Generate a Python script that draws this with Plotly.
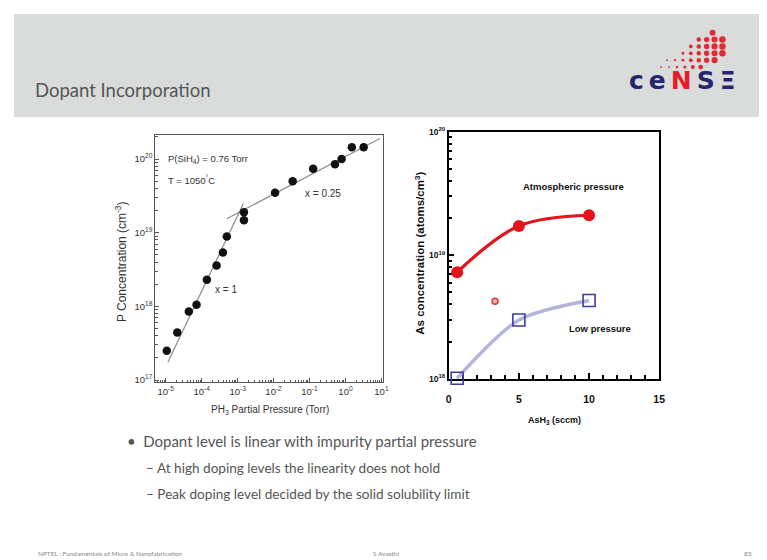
import plotly.graph_objects as go

# page body has an 8px margin: the figure starts at (8, 8) of the window
OFF = 8
W, H = 767 - OFF, 560 - OFF
def px(x): return (x - OFF) / W
def py(y): return 1 - (y - OFF) / H

# ---------------- data: left chart (P incorporation vs PH3 pressure) -------------
ph3_pressure = [1.07e-5, 2.1e-5, 4.4e-5, 7.2e-5, 1.4e-4, 2.6e-4, 3.9e-4, 5.0e-4,
                1.5e-3, 1.5e-3, 1.1e-2, 3.4e-2, 0.126, 0.51, 0.78, 1.5, 3.2]
p_conc = [2.5e17, 4.4e17, 8.5e17, 1.05e18, 2.3e18, 3.6e18, 5.4e18, 8.9e18,
          1.48e19, 1.9e19, 3.5e19, 5.0e19, 7.4e19, 8.5e19, 1.0e20, 1.45e20, 1.45e20]
fit1_x = [1.15e-5, 1.45e-3]
fit1_y = [1.74e17, 2.5e19]
fit2_x = [5.0e-4, 9.0]
fit2_y = [1.55e19, 1.9e20]
left_x_ticks = [1e-5, 1e-4, 1e-3, 1e-2, 1e-1, 1e0, 1e1]
left_x_labels = ["10<sup>-5</sup>", "10<sup>-4</sup>", "10<sup>-3</sup>", "10<sup>-2</sup>",
                 "10<sup>-1</sup>", "10<sup>0</sup>", "10<sup>1</sup>"]
left_y_ticks = [1e17, 1e18, 1e19, 1e20]
left_y_labels = ["10<sup>17</sup>", "10<sup>18</sup>", "10<sup>19</sup>", "10<sup>20</sup>"]

# ---------------- data: right chart (As concentration vs AsH3 flow) ---------------
ash3_flow = [0.6, 5, 10]
as_atm = [7.3e18, 1.73e19, 2.11e19]
as_low = [1.01e18, 2.99e18, 4.3e18]
stray_x = [3.3]
stray_y = [4.24e18]
right_x_ticks = [0, 5, 10, 15]
right_x_labels = ["<b>0</b>", "<b>5</b>", "<b>10</b>", "<b>15</b>"]
right_y_ticks = [1e18, 1e19, 1e20]
right_y_labels = ["<b>10<sup>18</sup></b>", "<b>10<sup>19</sup></b>", "<b>10<sup>20</sup></b>"]

def log_minor(lo, hi):
    return [float(m) * 10.0 ** e for e in range(lo, hi) for m in range(2, 10)]

AR = "Liberation Sans, Arial, sans-serif"
CAL = "Lato, Open Sans, sans-serif"

fig = go.Figure()

# left chart
fig.add_trace(go.Scatter(x=fit1_x, y=fit1_y, mode="lines", line=dict(color="#8a8a8a", width=1.2),
                         xaxis="x", yaxis="y", showlegend=False, hoverinfo="skip"))
fig.add_trace(go.Scatter(x=fit2_x, y=fit2_y, mode="lines", line=dict(color="#8a8a8a", width=1.2),
                         xaxis="x", yaxis="y", showlegend=False, hoverinfo="skip"))
fig.add_trace(go.Scatter(x=ph3_pressure, y=p_conc, mode="markers",
                         marker=dict(color="#111111", size=8.5, symbol="circle"),
                         xaxis="x", yaxis="y", showlegend=False))

# right chart
fig.add_trace(go.Scatter(x=ash3_flow, y=as_low, mode="lines",
                         line=dict(color="#b3b3dd", width=3.5, shape="spline", smoothing=0.8),
                         xaxis="x2", yaxis="y2", showlegend=False, hoverinfo="skip"))
fig.add_trace(go.Scatter(x=ash3_flow, y=as_atm, mode="lines+markers",
                         line=dict(color="#e3141b", width=3.2, shape="spline", smoothing=1),
                         marker=dict(symbol="circle", size=12, color="#e3141b"),
                         cliponaxis=False, xaxis="x2", yaxis="y2", showlegend=False))
fig.add_trace(go.Scatter(x=stray_x, y=stray_y, mode="markers",
                         marker=dict(symbol="circle", size=6, color="#f4b0b0",
                                     line=dict(width=1.5, color="#d83a3a")),
                         xaxis="x2", yaxis="y2", showlegend=False))
fig.add_trace(go.Scatter(x=ash3_flow, y=as_low, mode="markers",
                         marker=dict(symbol="square-open", size=12, color="#3d3d9e",
                                     line=dict(width=1.6, color="#3d3d9e")),
                         cliponaxis=False, xaxis="x2", yaxis="y2", showlegend=False))

fig.update_layout(
    width=W, height=H, margin=dict(l=0, r=0, t=0, b=0),
    paper_bgcolor="white", plot_bgcolor="white",
    xaxis=dict(type="log", domain=[px(154), px(384)], range=[-5.29, 1.03],
               tickmode="array", tickvals=left_x_ticks, ticktext=left_x_labels,
               ticks="inside", ticklen=4, tickcolor="#555", showgrid=False, zeroline=False,
               showline=True, linecolor="#555", linewidth=1, mirror=True,
               minor=dict(tickmode="array", tickvals=log_minor(-6, 1), ticks="inside",
                          ticklen=2.5, tickcolor="#555", showgrid=False),
               tickfont=dict(family=AR, size=9.5, color="#333"), anchor="y"),
    yaxis=dict(type="log", domain=[py(383), py(131)], range=[16.97, 20.33],
               tickmode="array", tickvals=left_y_ticks, ticktext=left_y_labels,
               ticks="inside", ticklen=4, tickcolor="#555", showgrid=False, zeroline=False,
               showline=True, linecolor="#555", linewidth=1, mirror=True,
               minor=dict(tickmode="array", tickvals=log_minor(16, 21), ticks="inside",
                          ticklen=2.5, tickcolor="#555", showgrid=False),
               tickfont=dict(family=AR, size=9.5, color="#333"), anchor="x"),
    xaxis2=dict(domain=[px(451), px(664)], range=[0, 15],
                tickmode="array", tickvals=right_x_ticks, ticktext=right_x_labels,
                ticks="inside", ticklen=6, tickwidth=2, tickcolor="#000",
                showgrid=False, zeroline=False, ticklabelstandoff=9, layer="below traces",
                showline=True, linecolor="#000", linewidth=2, mirror=True,
                minor=dict(dtick=1, ticks="inside", ticklen=4, tickwidth=2,
                           tickcolor="#000", showgrid=False),
                tickfont=dict(family=AR, size=10.5, color="#111"), anchor="y2"),
    yaxis2=dict(type="log", domain=[py(380), py(128)], range=[17.996, 20],
                tickmode="array", tickvals=right_y_ticks, ticktext=right_y_labels,
                ticks="inside", ticklen=5, tickwidth=2, tickcolor="#000",
                showgrid=False, zeroline=False, layer="below traces",
                showline=True, linecolor="#000", linewidth=2, mirror=True,
                minor=dict(tickmode="array", tickvals=log_minor(18, 20), ticks="inside",
                           ticklen=3, tickwidth=2, tickcolor="#000", showgrid=False),
                tickfont=dict(family=AR, size=8.5, color="#111"), anchor="x2"),
)

# header band
shapes = [dict(type="rect", xref="paper", yref="paper", x0=px(11), x1=px(767),
               y0=py(113), y1=py(8), fillcolor="#d9dcdb", line=dict(width=0), layer="below")]

# logo dots (decoration)
dot_rows = [(27, [718]), (34, [704, 712, 720, 728]), (41, [696, 704, 712, 720, 728]),
            (48, [688, 696, 704, 712, 720, 728]), (55, [672, 680, 688, 696, 704, 712, 720]),
            (62, [666, 674, 682, 690, 698, 706])]
for cy, cols in dot_rows:
    for cx in cols:
        r = 0.9 + 2.4 * max(0.0, min(1.0, (cx - 676) / 48.0))
        shapes.append(dict(type="circle", xref="paper", yref="paper",
                           x0=px(cx - r), x1=px(cx + r), y0=py(cy + r), y1=py(cy - r),
                           fillcolor="#e02a36", line=dict(width=0)))
fig.update_layout(shapes=shapes)

def ann(text, x, y, size, color="#333", family=AR, xanchor="left", angle=0, yanchor="middle"):
    fig.add_annotation(text=text, x=px(x), y=py(y), xref="paper", yref="paper",
                       showarrow=False, xanchor=xanchor, yanchor=yanchor, textangle=angle,
                       font=dict(family=family, size=size, color=color))

# slide texts
ann("Dopant Incorporation", 30, 85, 18.5, color="#555555", family=CAL)
ann("<b><span style='color:#25266b'>c\u2009e\u2009</span><span style='color:#e31e27'>N</span>"
    "<span style='color:#25266b'>\u2009S\u2009Ξ</span></b>", 688, 76, 25,
    family="DejaVu Sans, sans-serif", xanchor="center")
ann("•\u2002Dopant level is linear with impurity partial pressure", 123, 443, 15, color="#555", family=CAL)
ann("– At high doping levels the linearity does not hold", 143, 470, 13.6, color="#555", family=CAL)
ann("– Peak doping level decided by the solid solubility limit", 143, 497, 13.6, color="#555", family=CAL)
ann("NPTEL : Fundamentals of Micro &amp; Nanofabrication", 33, 557, 6.5, color="#888", family=CAL)
ann("S Avasthi", 388, 557, 6.5, color="#888", family=CAL, xanchor="center")
ann("83", 754, 557, 6.5, color="#888", family=CAL, xanchor="center")

# left chart texts
ann("P(SiH<sub>4</sub>) = 0.76 Torr", 165, 156, 9.5)
ann("T = 1050<sup>°</sup>C", 165, 177, 9.5)
ann("x = 0.25", 304, 191, 10)
ann("x = 1", 212, 289, 10)
ann("P Concentration (cm<sup>-3</sup>)", 120, 260, 12, xanchor="center", angle=-90)
ann("PH<sub>3</sub> Partial Pressure (Torr)", 270, 411, 10, xanchor="center")

# right chart texts
ann("<b>Atmospheric pressure</b>", 577, 184, 9.5, color="#111", xanchor="center")
ann("<b>Low pressure</b>", 604, 328, 9.5, color="#111", xanchor="center")
ann("<b>As concentration (atoms/cm<sup>3</sup>)</b>", 421, 252, 11.5, color="#111",
    xanchor="center", angle=-90)
ann("<b>AsH<sub>3</sub> (sccm)</b>", 558, 422, 9, color="#111", xanchor="center")

fig.write_html("out.html")
